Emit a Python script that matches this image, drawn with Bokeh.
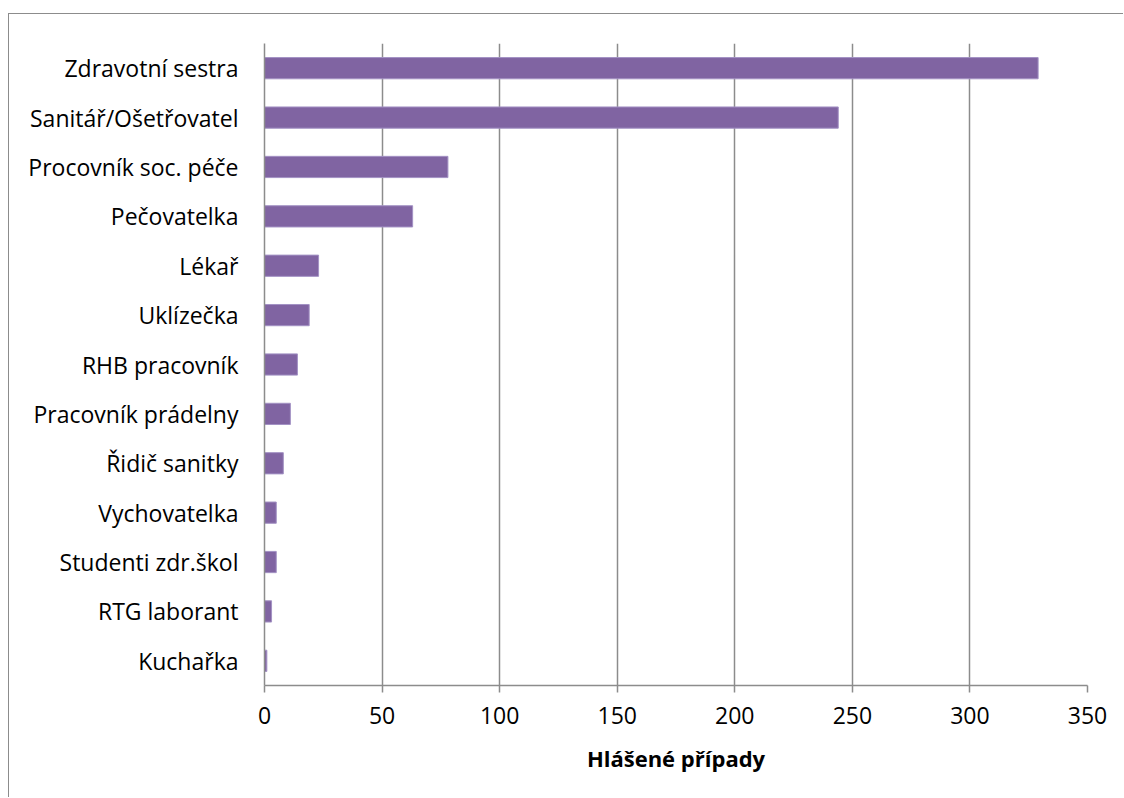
from bokeh.plotting import figure
from bokeh.models import FactorRange, Range1d, FixedTicker, ColumnDataSource
from bokeh.embed import file_html
from bokeh.resources import INLINE

# Reported cases by occupation
occupations = [
    "Zdravotní sestra",
    "Sanitář/Ošetřovatel",
    "Procovník soc. péče",
    "Pečovatelka",
    "Lékař",
    "Uklízečka",
    "RHB pracovník",
    "Pracovník prádelny",
    "Řidič sanitky",
    "Vychovatelka",
    "Studenti zdr.škol",
    "RTG laborant",
    "Kuchařka",
]
cases = [329, 244, 78, 63, 23, 19, 14, 11, 8, 5, 5, 3, 1]
x_ticks = [0, 50, 100, 150, 200, 250, 300, 350]

FONT = "Open Sans"
GRID = "#8c8c8c"

source = ColumnDataSource(dict(occupation=occupations, cases=cases))

p = figure(
    width=1115,
    height=784,
    y_range=FactorRange(factors=list(reversed(occupations)), range_padding=0),
    x_range=Range1d(0, 350),
    output_backend="svg",
    toolbar_location=None,
    min_border_left=255,
    min_border_right=37,
    min_border_top=29,
    min_border_bottom=113,
)
p.styles = {
    "border-left": "1px solid #8c8c8c",
    "border-top": "1px solid #8c8c8c",
    "margin-left": "8px",
    "margin-top": "13px",
}

p.hbar(y="occupation", right="cases", left=0, height=0.43, source=source,
       fill_color="#8064A2", line_color="#a392c4", line_width=1)

p.outline_line_color = None
p.background_fill_color = "white"
p.border_fill_color = "white"

# vertical grid only
p.ygrid.grid_line_color = None
p.xgrid.ticker = FixedTicker(ticks=x_ticks)
p.xgrid.grid_line_color = GRID
p.xgrid.grid_line_width = 1.5

# x axis
p.xaxis.ticker = FixedTicker(ticks=x_ticks)
p.xaxis.axis_line_color = GRID
p.xaxis.axis_line_width = 1.5
p.xaxis.major_tick_line_color = GRID
p.xaxis.major_tick_line_width = 1.5
p.xaxis.major_tick_out = 7
p.xaxis.major_tick_in = 0
p.xaxis.minor_tick_line_color = None
p.xaxis.major_label_text_font = FONT
p.xaxis.major_label_text_font_size = "23px"
p.xaxis.major_label_text_color = "black"
p.xaxis.major_label_standoff = 14
p.xaxis.axis_label = "Hlášené případy"
p.xaxis.axis_label_text_font = FONT
p.xaxis.axis_label_text_font_style = "bold"
p.xaxis.axis_label_text_font_size = "22px"
p.xaxis.axis_label_text_color = "black"
p.xaxis.axis_label_standoff = 16

# y axis
p.yaxis.axis_line_color = GRID
p.yaxis.axis_line_width = 1.5
p.yaxis.major_tick_line_color = None
p.yaxis.minor_tick_line_color = None
p.yaxis.major_tick_out = 0
p.yaxis.major_label_text_font = FONT
p.yaxis.major_label_text_font_size = "23px"
p.yaxis.major_label_text_color = "black"
p.yaxis.major_label_standoff = 26

open("out.html", "w").write(file_html(p, INLINE))
